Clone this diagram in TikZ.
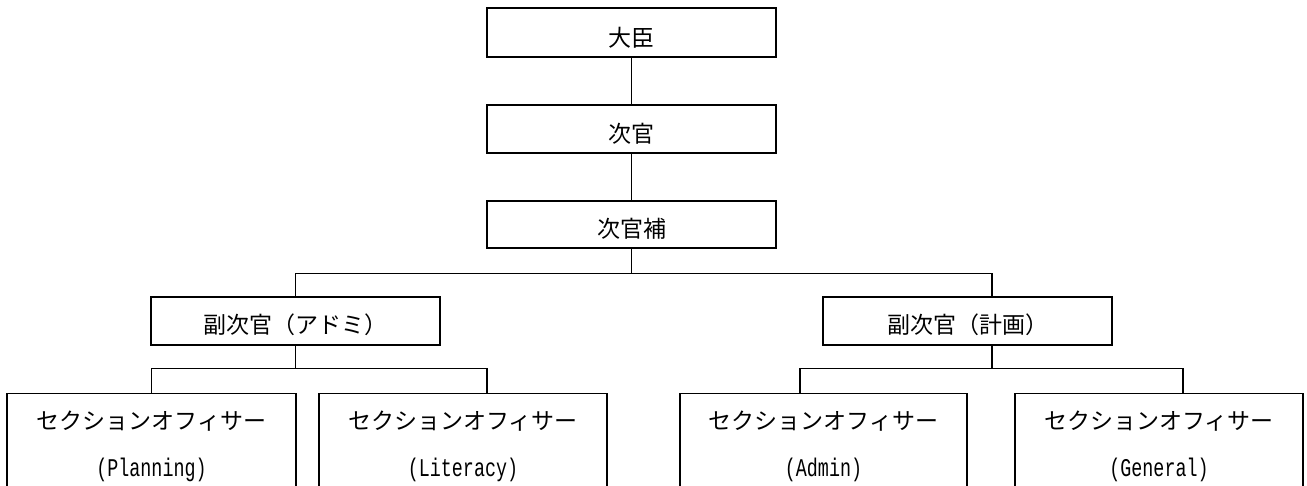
\documentclass[tikz,border=0pt]{standalone}
\usepackage{fontspec}
\newfontfamily\cjk{Noto Sans CJK JP}
\newfontfamily\latf[FakeStretch=0.72]{Liberation Mono}
\begin{document}
\begin{tikzpicture}[x=1pt,y=-1pt,
  box/.style={draw, line width=1.4pt, inner sep=0pt, minimum width=289pt},
  conn/.style={line width=1.3pt},
  jp/.style={font=\cjk\fontsize{23}{23}\selectfont, inner sep=0pt},
  lat/.style={font=\latf\fontsize{25.5}{25.5}\selectfont, inner sep=0pt}]
\useasboundingbox (0,0) rectangle (1307,485);
\clip (0,0) rectangle (1307,485);
% top column
\node[box, minimum height=49pt] (n1) at (631.5,32.5) {};
\node[box, minimum height=48pt] (n2) at (631.5,129) {};
\node[box, minimum height=47pt] (n3) at (631.5,224.5) {};
\node[jp] (t1) at ([yshift=-5pt]n1.center) {大臣};
\node[jp] (t2) at ([yshift=-5pt]n2.center) {次官};
\node[jp] (t3) at ([yshift=-4pt]n3.center) {次官補};
% middle level
\node[box, minimum height=48pt] (m1) at (295.5,321) {};
\node[box, minimum height=48pt] (m2) at (967.5,321) {};
\node[jp] (tm1) at ([yshift=-4pt]m1.center) {副次官（アドミ）};
\node[jp] (tm2) at ([yshift=-4pt]m2.center) {副次官（計画）};
% bottom level (cut off by the page edge)
\node[box, minimum width=289pt, minimum height=130pt, anchor=north] (b1) at (151.5,393) {};
\node[box, minimum width=288pt, minimum height=130pt, anchor=north] (b2) at (463,393) {};
\node[box, minimum width=287pt, minimum height=130pt, anchor=north] (b3) at (823.5,393) {};
\node[box, minimum width=288pt, minimum height=130pt, anchor=north] (b4) at (1159,393) {};
\node[jp] (s1) at ([yshift=-28pt]b1.north) {セクションオフィサー};
\node[jp] (s2) at ([yshift=-28pt]b2.north) {セクションオフィサー};
\node[jp] (s3) at ([yshift=-28pt]b3.north) {セクションオフィサー};
\node[jp] (s4) at ([yshift=-28pt]b4.north) {セクションオフィサー};
\node[lat] (l1) at ([yshift=-77pt]b1.north) {(Planning)};
\node[lat] (l2) at ([yshift=-77pt]b2.north) {(Literacy)};
\node[lat] (l3) at ([yshift=-77pt]b3.north) {(Admin)};
\node[lat] (l4) at ([yshift=-77pt]b4.north) {(General)};
% connectors
\draw[conn] (n1.south) -- (n2.north);
\draw[conn] (n2.south) -- (n3.north);
\draw[conn] (n3.south) -- ++(0,25) coordinate (j1);
\draw[conn] (m1.north) |- (j1) -| ([xshift=24.5pt]m2.north);
\draw[conn] (m1.south) -- ++(0,23) coordinate (j2);
\draw[conn] (b1.north) |- (j2) -| ([xshift=24pt]b2.north);
\draw[conn] ([xshift=24.5pt]m2.south) -- ++(0,23) coordinate (j3);
\draw[conn] ([xshift=-23.5pt]b3.north) |- (j3) -| ([xshift=24pt]b4.north);
\end{tikzpicture}
\end{document}
